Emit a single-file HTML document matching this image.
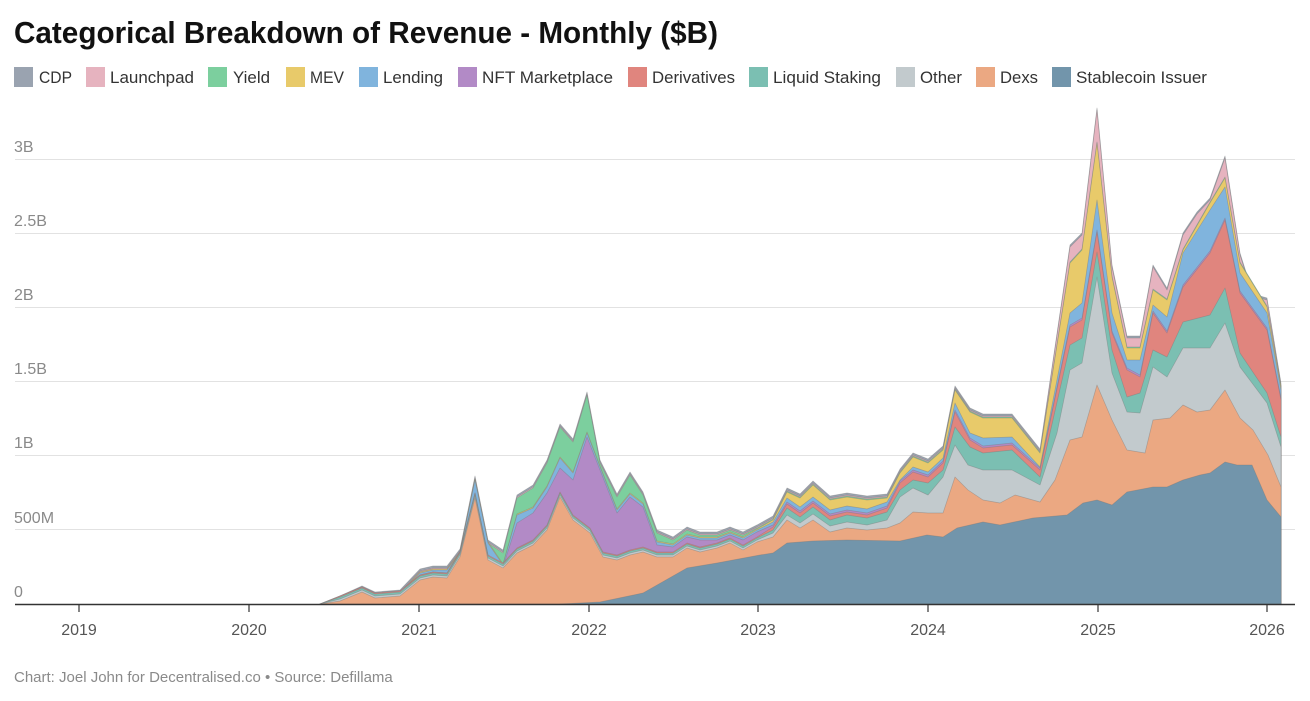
<!DOCTYPE html>
<html><head><meta charset="utf-8"><style>
html,body{margin:0;padding:0;background:#fff;}
svg{display:block;font-family:"Liberation Sans",sans-serif;}
</style></head><body>
<svg id="c" width="1310" height="701" viewBox="0 0 1310 701" xmlns="http://www.w3.org/2000/svg">
<rect width="1310" height="701" fill="#fff"/>
<text x="14" y="43" font-size="31" font-weight="bold" fill="#111" textLength="704" lengthAdjust="spacingAndGlyphs">Categorical Breakdown of Revenue - Monthly ($B)</text>
<g font-size="17" fill="#333">
<rect x="14" y="67" width="19" height="20" fill="#9aa3b0"/><text x="39" y="83" textLength="33" lengthAdjust="spacingAndGlyphs">CDP</text>
<rect x="86" y="67" width="19" height="20" fill="#e6b3bf"/><text x="110" y="83" textLength="84" lengthAdjust="spacingAndGlyphs">Launchpad</text>
<rect x="208" y="67" width="19" height="20" fill="#7ccf9e"/><text x="233" y="83" textLength="37" lengthAdjust="spacingAndGlyphs">Yield</text>
<rect x="286" y="67" width="19" height="20" fill="#e8ca6a"/><text x="310" y="83" textLength="34" lengthAdjust="spacingAndGlyphs">MEV</text>
<rect x="359" y="67" width="19" height="20" fill="#80b4dd"/><text x="383" y="83" textLength="60" lengthAdjust="spacingAndGlyphs">Lending</text>
<rect x="458" y="67" width="19" height="20" fill="#b28ac6"/><text x="482" y="83" textLength="131" lengthAdjust="spacingAndGlyphs">NFT Marketplace</text>
<rect x="628" y="67" width="19" height="20" fill="#e0857e"/><text x="652" y="83" textLength="83" lengthAdjust="spacingAndGlyphs">Derivatives</text>
<rect x="749" y="67" width="19" height="20" fill="#7bbfb2"/><text x="773" y="83" textLength="108" lengthAdjust="spacingAndGlyphs">Liquid Staking</text>
<rect x="896" y="67" width="19" height="20" fill="#c2cacd"/><text x="920" y="83" textLength="42" lengthAdjust="spacingAndGlyphs">Other</text>
<rect x="976" y="67" width="19" height="20" fill="#eba882"/><text x="1000" y="83" textLength="38" lengthAdjust="spacingAndGlyphs">Dexs</text>
<rect x="1052" y="67" width="19" height="20" fill="#7295ab"/><text x="1076" y="83" textLength="131" lengthAdjust="spacingAndGlyphs">Stablecoin Issuer</text>
</g>
<g stroke="#e2e2e2" stroke-width="1">
<line x1="15" x2="1295" y1="159.5" y2="159.5"/><line x1="15" x2="1295" y1="233.5" y2="233.5"/>
<line x1="15" x2="1295" y1="307.5" y2="307.5"/><line x1="15" x2="1295" y1="381.5" y2="381.5"/>
<line x1="15" x2="1295" y1="455.5" y2="455.5"/><line x1="15" x2="1295" y1="529.5" y2="529.5"/>
</g>
<g font-size="16" fill="#8a8a8a">
<text x="14" y="152">3B</text><text x="14" y="226">2.5B</text><text x="14" y="300">2B</text>
<text x="14" y="374">1.5B</text><text x="14" y="448">1B</text><text x="14" y="523">500M</text><text x="14" y="597">0</text>
</g>
<g id="areas"></g>
<line x1="15" x2="1295" y1="604.5" y2="604.5" stroke="#333" stroke-width="1.5"/>
<g stroke="#333" stroke-width="1.2">
<line x1="79" x2="79" y1="604" y2="612"/><line x1="249" x2="249" y1="604" y2="612"/><line x1="419" x2="419" y1="604" y2="612"/>
<line x1="589" x2="589" y1="604" y2="612"/><line x1="758" x2="758" y1="604" y2="612"/><line x1="928" x2="928" y1="604" y2="612"/>
<line x1="1098" x2="1098" y1="604" y2="612"/><line x1="1267" x2="1267" y1="604" y2="612"/>
</g>
<g font-size="16" fill="#555" text-anchor="middle">
<text x="79" y="635">2019</text><text x="249" y="635">2020</text><text x="419" y="635">2021</text><text x="589" y="635">2022</text>
<text x="758" y="635">2023</text><text x="928" y="635">2024</text><text x="1098" y="635">2025</text><text x="1267" y="635">2026</text>
</g>
<text x="14" y="682" font-size="15" fill="#8a8a8a">Chart: Joel John for Decentralised.co • Source: Defillama</text>
</svg>
<script>
var S=[[560,604],[600,602],[643,593],[687,568],[717,563],[760,555],[773,553],[787,543],[813,541],[847,540],[900,541],[927,535],[943,537],[957,528],[983,522],[1000,525],[1033,518],[1067,515],[1083,503],[1097,500],[1112,505],[1127,492],[1153,487],[1167,487],[1183,480],[1200,475],[1210,473],[1225,462],[1237,465],[1252,465],[1267,500],[1281,517]];
var D=[[320,604],[340,601],[362,592],[375,598],[400,596],[420,580],[433,577],[447,578],[460,557],[475,498],[488,560],[503,568],[517,553],[533,545],[547,530],[560,497],[573,520],[590,533],[603,557],[617,560],[630,555],[643,552],[657,557],[673,557],[687,548],[700,552],[717,548],[730,543],[743,550],[757,542],[773,537],[787,520],[800,528],[813,520],[830,532],[847,528],[867,530],[887,528],[900,523],[913,512],[928,513],[943,513],[955,477],[968,490],[983,500],[1000,503],[1015,495],[1040,502],[1055,480],[1070,440],[1082,437],[1097,385],[1112,420],[1127,450],[1145,453],[1153,420],[1170,418],[1183,405],[1197,412],[1210,410],[1225,390],[1240,418],[1253,430],[1268,455],[1281,487]];
function sh(a,dy,xmax){var r=[];a.forEach(function(p){if(p[0]<=xmax)r.push([p[0],p[1]===604?604:p[1]+dy]);});return r;}
var O=sh(D,-2,757).concat([[773,533],[787,515],[800,523],[813,514],[830,526],[847,522],[867,525],[887,520],[900,497],[913,488],[928,495],[943,477],[955,445],[968,465],[983,470],[1012,470],[1040,485],[1057,433],[1070,370],[1082,363],[1097,277],[1112,373],[1127,412],[1140,413],[1153,367],[1167,377],[1183,348],[1210,348],[1225,323],[1240,367],[1267,403],[1281,447]]);
var L=sh(D,-4,757).concat([[773,530],[787,508],[800,517],[813,507],[830,520],[847,515],[867,518],[887,512],[900,490],[913,480],[928,483],[943,470],[955,427],[970,447],[983,453],[1012,450],[1040,477],[1070,345],[1082,338],[1097,252],[1112,350],[1127,397],[1140,393],[1153,350],[1167,357],[1183,322],[1210,315],[1225,288],[1240,353],[1267,393],[1281,437]]);
var R=sh(D,-5,757).concat([[773,527],[787,504],[800,513],[813,503],[830,516],[847,512],[867,515],[887,508],[900,483],[913,472],[928,477],[943,463],[955,412],[970,440],[983,448],[1012,445],[1040,470],[1070,327],[1082,320],[1097,232],[1112,333],[1127,370],[1140,377],[1153,313],[1167,333],[1183,287],[1210,253],[1225,220],[1240,293],[1267,330],[1281,400]]);
var N=sh(D,-5,488).concat([[503,567],[517,523],[533,513],[547,493],[560,468],[573,480],[587,437],[600,470],[617,513],[630,497],[643,507],[657,545],[673,547],[687,537],[700,540],[717,540],[730,535],[743,540],[757,532],[773,525],[787,502],[800,511],[813,501],[830,514],[847,510],[867,513],[887,506],[900,481],[913,470],[928,475],[943,461],[955,410],[970,438],[983,446],[1012,443],[1040,468],[1070,325],[1082,318],[1097,230],[1112,331],[1127,368],[1140,375],[1153,311],[1167,331],[1183,285],[1210,251],[1225,218],[1240,291],[1267,328],[1281,398]]);
var B=[[320,604],[340,600],[362,590],[375,596],[400,594],[420,573],[433,570],[447,570],[460,553],[475,480],[488,543],[503,565],[517,515],[533,508],[547,487],[560,458],[573,473],[587,433],[600,467],[617,510],[630,494],[643,504],[657,542],[673,545],[687,535],[700,538],[717,538],[730,533],[743,538],[757,530],[773,522],[787,498],[800,507],[813,497],[830,510],[847,506],[867,509],[887,502],[900,480],[913,467],[928,472],[943,458],[955,403],[970,433],[983,438],[1012,437],[1040,467],[1070,313],[1082,303],[1097,200],[1112,313],[1127,360],[1140,360],[1153,305],[1167,317],[1183,253],[1210,210],[1225,187],[1240,273],[1267,313],[1281,390]];
var M=sh(B,-1,757).concat([[773,520],[787,492],[800,498],[813,485],[830,500],[847,497],[867,500],[887,498],[900,473],[913,457],[928,463],[943,450],[955,390],[970,412],[983,418],[1012,418],[1040,453],[1070,263],[1082,250],[1097,143],[1112,277],[1127,348],[1140,348],[1153,290],[1167,300],[1183,250],[1210,203],[1225,178],[1240,263],[1267,307],[1281,387]]);
var Y=sh(B,-1,475).concat([[488,543],[503,553],[517,498],[533,488],[547,463],[560,427],[573,442],[587,395],[600,463],[617,497],[630,475],[643,495],[657,533],[673,540],[687,530],[700,535],[717,535],[730,530],[743,535],[757,528]]).concat(sh(M,-1,2000).filter(function(p){return p[0]>757;}));
var P=sh(Y,-1,1057).concat([[1070,247],[1082,235],[1097,110],[1112,267],[1127,338],[1140,338],[1153,267],[1167,290],[1183,235],[1197,214],[1210,200],[1225,158],[1240,255],[1253,296],[1267,300],[1281,385]]);
var C=sh(P,-2,2000);
var layers=[[C,"#9aa3b0"],[P,"#e6b3bf"],[Y,"#7ccf9e"],[M,"#e8ca6a"],[B,"#80b4dd"],[N,"#b28ac6"],[R,"#e0857e"],[L,"#7bbfb2"],[O,"#c2cacd"],[D,"#eba882"],[S,"#7295ab"]];
var g=document.getElementById("areas"),h="";
layers.forEach(function(l){var a=l[0];var pts=a.map(function(p){return p[0]+","+p[1];});
var lx=a[a.length-1][0],fx=a[0][0];pts.push(lx+",604");pts.push(fx+",604");
h+='<polygon points="'+pts.join(" ")+'" fill="'+l[1]+'" stroke="rgba(120,120,120,0.45)" stroke-width="0.7" stroke-linejoin="round"/>';});
g.innerHTML=h;
</script>
</body></html>
